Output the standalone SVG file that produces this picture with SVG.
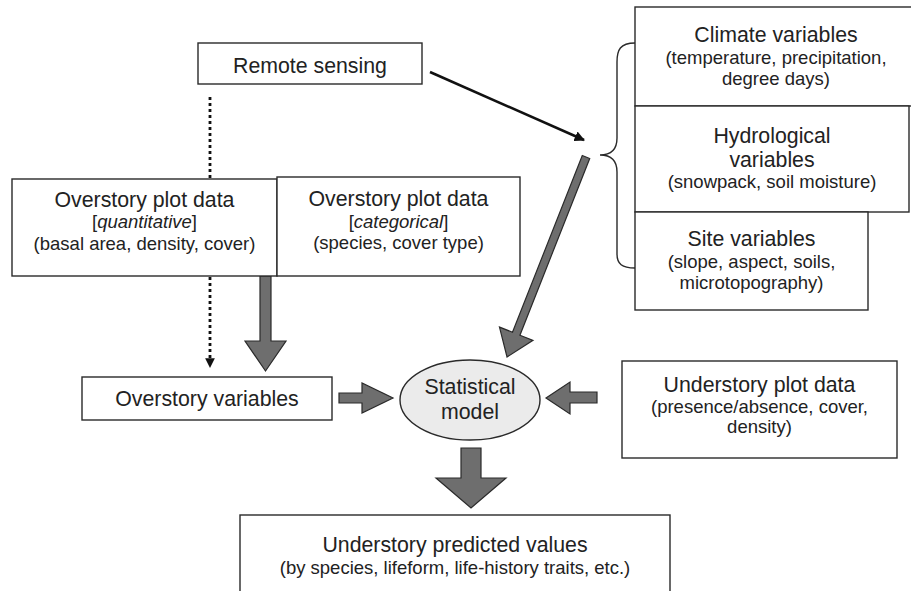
<svg xmlns="http://www.w3.org/2000/svg" width="911" height="591" viewBox="0 0 911 591">
<style>
  .box{fill:#fff;stroke:#2a2a2a;stroke-width:1.4}
  .t{font-family:"Liberation Sans",Arial,sans-serif;font-size:21.3px;fill:#222;text-anchor:middle}
  .s{font-family:"Liberation Sans",Arial,sans-serif;font-size:18.5px;fill:#222;text-anchor:middle}
  .fat{fill:#6e6e6e;stroke:#2a2a2a;stroke-width:1.2;stroke-linejoin:miter}
</style>
<defs>
  <marker id="ah" viewBox="0 0 10 10" refX="9" refY="5" markerWidth="4" markerHeight="4" orient="auto" markerUnits="strokeWidth">
    <path d="M0,0 L10,5 L0,10 Z" fill="#111"/>
  </marker>
  <marker id="ahd" viewBox="0 0 10 10" refX="9" refY="5" markerWidth="3.5" markerHeight="3.5" orient="auto" markerUnits="strokeWidth">
    <path d="M0,0 L10,5 L0,10 Z" fill="#111"/>
  </marker>
</defs>
<rect width="911" height="591" fill="#fff"/>

<g id="connectors">
  <line x1="430" y1="72" x2="584" y2="140" stroke="#111" stroke-width="2.6" marker-end="url(#ah)"/>
  <line x1="210" y1="97" x2="210" y2="367" stroke="#111" stroke-width="2.8" stroke-dasharray="3 3" marker-end="url(#ahd)"/>
  <path class="fat" d="M260,276 L271,276 L271,341 L286,341 L265.5,371 L245,341 L260,341 Z"/>
  <path class="fat" d="M339,393 L362,393 L362,383 L393,398 L362,413 L362,403 L339,403 Z"/>
  <path class="fat" d="M597,392 L570,392 L570,382 L546,398 L570,414 L570,403 L597,403 Z"/>
  <path class="fat" d="M461,448 L481,448 L481,478 L506,478 L471,508 L436,478 L461,478 Z"/>
  <g transform="translate(586,157) rotate(21.55)">
    <path class="fat" d="M-4,0 L4,0 L4,190 L18,190 L0,215 L-18,190 L-4,190 Z"/>
  </g>
  <path d="M635,43 C620,43 617,50 617,62 L617,138 C617,150 610,155 600,155 C610,155 617,160 617,172 L617,254 C617,264 622,268 635,268" fill="none" stroke="#2a2a2a" stroke-width="1.4"/>
</g>

<g id="remote">
  <rect class="box" x="198" y="43" width="224" height="41"/>
  <text class="t" x="310" y="73">Remote sensing</text>
</g>

<g id="climate">
  <rect class="box" x="635" y="7" width="285" height="99"/>
  <text class="t" x="776" y="42">Climate variables</text>
  <text class="s" x="776" y="64">(temperature, precipitation,</text>
  <text class="s" x="776" y="85">degree days)</text>
</g>

<g id="hydro">
  <rect class="box" x="635" y="106" width="274" height="106"/>
  <text class="t" x="772" y="143">Hydrological</text>
  <text class="t" x="772" y="167">variables</text>
  <text class="s" x="772" y="188">(snowpack, soil moisture)</text>
</g>

<g id="site">
  <rect class="box" x="635" y="212" width="233" height="98"/>
  <text class="t" x="751.5" y="246">Site variables</text>
  <text class="s" x="751.5" y="268">(slope, aspect, soils,</text>
  <text class="s" x="751.5" y="289">microtopography)</text>
</g>

<g id="overstory-quant">
  <rect class="box" x="12" y="179" width="265" height="97"/>
  <text class="t" x="144.5" y="207">Overstory plot data</text>
  <text class="s" x="144.5" y="228">[<tspan font-style="italic">quantitative</tspan>]</text>
  <text class="s" x="144.5" y="250">(basal area, density, cover)</text>
</g>

<g id="overstory-cat">
  <rect class="box" x="277" y="177" width="243" height="99"/>
  <text class="t" x="398.5" y="206">Overstory plot data</text>
  <text class="s" x="398.5" y="228">[<tspan font-style="italic">categorical</tspan>]</text>
  <text class="s" x="398.5" y="249">(species, cover type)</text>
</g>

<g id="overstory-vars">
  <rect class="box" x="82" y="377" width="250" height="43"/>
  <text class="t" x="207" y="406">Overstory variables</text>
</g>

<g id="model">
  <ellipse cx="470" cy="400" rx="70" ry="40" fill="#ebebeb" stroke="#2a2a2a" stroke-width="1.4"/>
  <text class="t" x="470" y="394">Statistical</text>
  <text class="t" x="470" y="419">model</text>
</g>

<g id="understory-data">
  <rect class="box" x="622" y="361" width="275" height="97"/>
  <text class="t" x="759.5" y="392">Understory plot data</text>
  <text class="s" x="759.5" y="413">(presence/absence, cover,</text>
  <text class="s" x="759.5" y="433">density)</text>
</g>

<g id="predicted">
  <rect class="box" x="240" y="515" width="430" height="90"/>
  <text class="t" x="455" y="552">Understory predicted values</text>
  <text class="s" x="455" y="574">(by species, lifeform, life-history traits, etc.)</text>
</g>
</svg>
